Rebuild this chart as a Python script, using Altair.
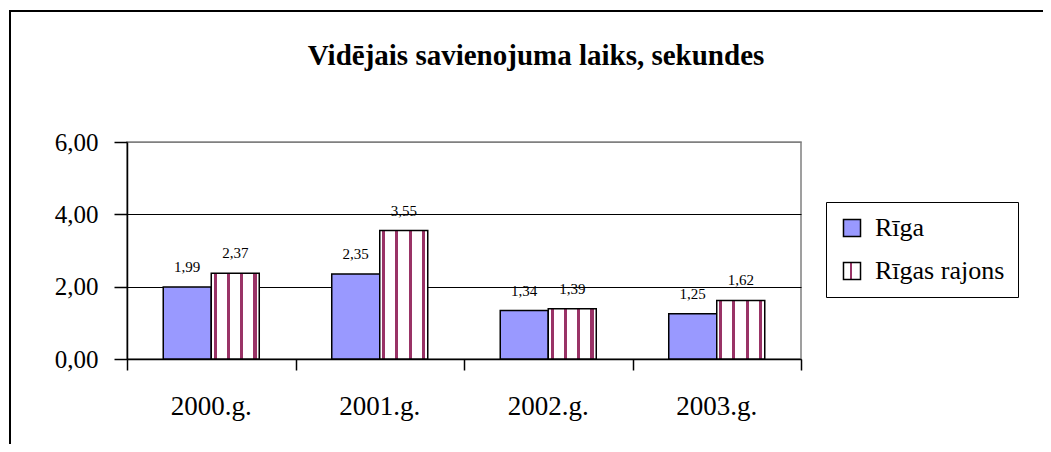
import altair as alt
import pandas as pd

# ---- data ----
categories = ["2000.g.", "2001.g.", "2002.g.", "2003.g."]
series_names = ["Rīga", "Rīgas rajons"]
riga = [1.99, 2.35, 1.34, 1.25]
rajons = [2.37, 3.55, 1.39, 1.62]
y_ticks = [0, 2, 4, 6]
title_text = "Vidējais savienojuma laiks, sekundes"

rows = []
for i, c in enumerate(categories):
    rows.append({"cat": c, "series": series_names[0], "value": riga[i]})
    rows.append({"cat": c, "series": series_names[1], "value": rajons[i]})
df = pd.DataFrame(rows)

# ---- styles ----
SERIF = "Liberation Serif"
BLUE = "#9999FF"
MAROON = "#993366"


def stripes_expr(centers, half):
    stops = ["{offset: 0, color: 'white'}"]
    for c in centers:
        a, b = c - half, c + half
        stops += [
            f"{{offset: {a:.3f}, color: 'white'}}",
            f"{{offset: {a:.3f}, color: '{MAROON}'}}",
            f"{{offset: {b:.3f}, color: '{MAROON}'}}",
            f"{{offset: {b:.3f}, color: 'white'}}",
        ]
    stops.append("{offset: 1, color: 'white'}")
    return ("{gradient: 'linear', x1: 0, y1: 0, x2: 1, y2: 0, stops: ["
            + ", ".join(stops) + "]}")


bar_stripes = stripes_expr([0.08, 0.357, 0.634, 0.911], 0.032)
legend_stripes = stripes_expr([0.45], 0.07)

base = alt.Chart(df)

x_band = alt.X(
    "cat:N", sort=categories,
    scale=alt.Scale(paddingInner=0, paddingOuter=0),
    axis=alt.Axis(title=None, ticks=False, domain=False, labelAngle=0,
                  labelFont=SERIF, labelFontSize=27, labelColor="black",
                  labelPadding=34, orient="bottom"),
)
x_off = alt.XOffset(
    "series:N", sort=series_names,
    scale=alt.Scale(domain=series_names, paddingInner=0, paddingOuter=0.755),
)
y_enc = alt.Y(
    "value:Q",
    scale=alt.Scale(domain=[0, 6], nice=False),
    axis=alt.Axis(
        values=y_ticks, title=None,
        labelExpr="replace(format(datum.value, '.2f'), '.', ',')",
        grid=True,
        gridColor={"condition": {"test": "datum.value >= 6", "value": "#808080"},
                   "value": "black"},
        gridWidth=1.2,
        tickSize=13, tickColor="black", tickWidth=1.5,
        domainColor="black", domainWidth=1.5,
        labelFont=SERIF, labelFontSize=25, labelColor="black", labelPadding=16,
    ),
)

bars = base.mark_bar(stroke="black", strokeWidth=1.5).encode(
    x=x_band,
    xOffset=x_off,
    y=y_enc,
    fill=alt.Fill("series:N",
                  scale=alt.Scale(domain=series_names,
                                  range=[BLUE, alt.ExprRef(bar_stripes)]),
                  legend=None),
)

labels = base.transform_calculate(
    label="replace(format(datum.value, '.2f'), '.', ',')"
).mark_text(font=SERIF, fontSize=15, dy=-15, baseline="alphabetic",
            color="black").encode(
    x=alt.X("cat:N", sort=categories),
    xOffset=alt.XOffset("series:N", sort=series_names),
    y=alt.Y("value:Q"),
    text="label:N",
)

inner = alt.layer(bars, labels)

# helper layer: boundary ticks on the category axis + legend
helper = base.transform_filter("false").mark_square(
    opacity=1, stroke="black", strokeWidth=1.5
).encode(
    x=alt.X("pos:Q", scale=alt.Scale(domain=[0, 4], nice=False),
            axis=alt.Axis(values=[0, 1, 2, 3, 4], labels=False, grid=False,
                          title=None, orient="bottom", tickSize=11,
                          tickColor="black", tickWidth=1.5,
                          domainColor="black", domainWidth=1.5)),
    fill=alt.Fill("series:N",
                  scale=alt.Scale(domain=series_names,
                                  range=[BLUE, alt.ExprRef(legend_stripes)]),
                  legend=alt.Legend(
                      title=None, orient="none", legendX=699, legendY=60,
                      strokeColor="black", fillColor="white", padding=13,
                      symbolType="square", symbolSize=290,
                      symbolStrokeColor="black", symbolStrokeWidth=1.5,
                      symbolOpacity=1,
                      labelFont=SERIF, labelFontSize=26, labelColor="black",
                      labelOffset=10, rowPadding=17)),
)

frame = alt.Chart(alt.Data(values=[{"f": 1}])).mark_rect(
    fill="transparent", stroke="black", strokeWidth=2
).encode(
    x=alt.value(-117), x2=alt.value(3000),
    y=alt.value(-131), y2=alt.value(2000),
)

chart = alt.layer(frame, inner, helper).resolve_scale(
    x="independent", fill="independent"
).properties(
    width=674, height=217,
    padding={"left": 119, "top": 134, "right": 242, "bottom": 85},
    autosize=alt.AutoSizeParams(type="none"),
    background="white",
    title=alt.TitleParams(text=title_text, font=SERIF, fontSize=29,
                          fontWeight="bold", color="black", anchor="middle",
                          frame="group", dx=72, offset=-84,
                          baseline="alphabetic"),
).configure_view(
    stroke="#808080", strokeWidth=1.5
).configure_legend(
    labelFont=SERIF, labelFontSize=26, labelColor="black"
)

chart.save("out.html", embed_options={"renderer": "svg", "actions": False})
